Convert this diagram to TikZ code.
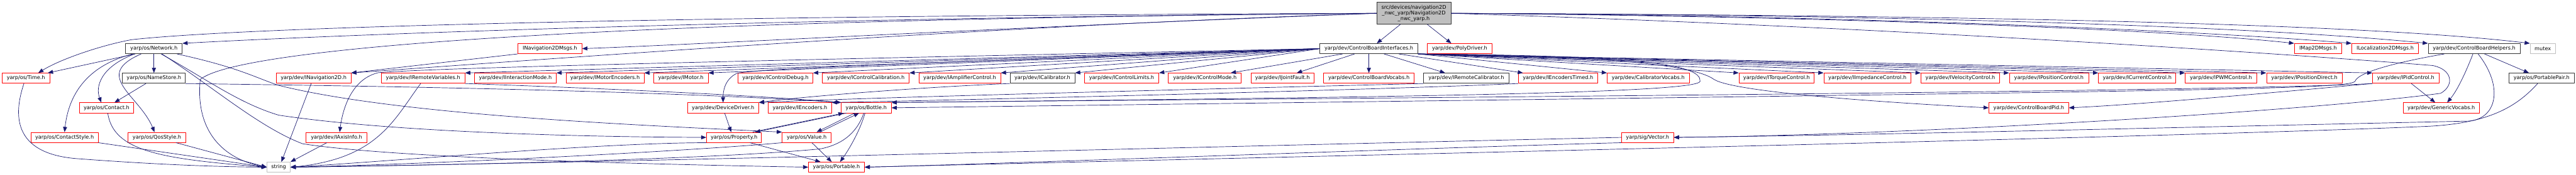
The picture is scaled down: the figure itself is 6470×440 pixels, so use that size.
\documentclass[tikz,border=0pt]{standalone}
\usepackage{fontspec}
\setmainfont{DejaVu Sans}
\usetikzlibrary{arrows.meta}
\definecolor{incblue}{HTML}{191970}
\definecolor{boxred}{HTML}{FF0000}
\definecolor{boxgray}{HTML}{BFBFBF}
\begin{document}
\begin{tikzpicture}[x=1pt,y=-1pt,line join=round,>={Triangle[length=13pt,width=10pt]},font=\fontsize{12.9}{14.7}\selectfont]
	\tikzset{box/.style={draw,line width=1.2pt,minimum height=25.5pt,inner sep=0pt,anchor=west},
		redbox/.style={box,draw=boxred},
		blkbox/.style={box,draw=black!80},
		graybox/.style={box,draw=boxgray},
		inc/.style={draw=incblue,line width=1.1pt,->}}
	\def\ya{122.5} \def\yb{197} \def\yc{271.5} \def\yd{346} \def\ye{421}
	\useasboundingbox (0,0) rectangle (6470,440);
	\fill[white] (0,0) rectangle (6470,440);
	\node[draw=black!80,fill=boxgray,line width=1.2pt,minimum width=186pt,minimum height=55pt,inner sep=0pt,align=center] (nav) at (3551,33.5) {src/devices/navigation2D\\\_nwc\_yarp/Navigation2D\\\_nwc\_yarp.h};
	\node[blkbox,minimum width=142pt] (net) at (315,\ya) {yarp/os/Network.h};
	\node[redbox,minimum width=161pt] (nmsg) at (1300,\ya) {INavigation2DMsgs.h};
	\node[blkbox,minimum width=246pt] (cbi) at (3314.5,\ya) {yarp/dev/ControlBoardInterfaces.h};
	\node[redbox,minimum width=163pt] (poly) at (3584,\ya) {yarp/dev/PolyDriver.h};
	\node[redbox,minimum width=119pt] (map) at (5762,\ya) {IMap2DMsgs.h};
	\node[redbox,minimum width=168pt] (loc) at (5906,\ya) {ILocalization2DMsgs.h};
	\node[blkbox,minimum width=231pt] (cbh) at (6098,\ya) {yarp/dev/ControlBoardHelpers.h};
	\node[graybox,minimum width=64pt] (mutex) at (6354,\ya) {mutex};
	\node[redbox,minimum width=119pt] (time) at (5,\yb) {yarp/os/Time.h};
	\node[blkbox,minimum width=158pt] (names) at (307,\yb) {yarp/os/NameStore.h};
	\node[redbox,minimum width=188pt] (inav) at (693,\yb) {yarp/dev/INavigation2D.h};
	\node[redbox,minimum width=210pt] (irv) at (957,\yb) {yarp/dev/IRemoteVariables.h};
	\node[redbox,minimum width=205.5pt] (iim) at (1191,\yb) {yarp/dev/IInteractionMode.h};
	\node[redbox,minimum width=196pt] (ime) at (1421,\yb) {yarp/dev/IMotorEncoders.h};
	\node[redbox,minimum width=137pt] (imot) at (1641,\yb) {yarp/dev/IMotor.h};
	\node[redbox,minimum width=188pt] (icd) at (1853,\yb) {yarp/dev/IControlDebug.h};
	\node[redbox,minimum width=218pt] (icc) at (2065,\yb) {yarp/dev/IControlCalibration.h};
	\node[redbox,minimum width=205.5pt] (iamp) at (2307,\yb) {yarp/dev/IAmplifierControl.h};
	\node[blkbox,minimum width=163pt] (ical) at (2536,\yb) {yarp/dev/ICalibrator.h};
	\node[redbox,minimum width=187pt] (icl) at (2723,\yb) {yarp/dev/IControlLimits.h};
	\node[redbox,minimum width=183pt] (icm) at (2934,\yb) {yarp/dev/IControlMode.h};
	\node[redbox,minimum width=159pt] (ijf) at (3141,\yb) {yarp/dev/IJointFault.h};
	\node[redbox,minimum width=227pt] (cbv) at (3324,\yb) {yarp/dev/ControlBoardVocabs.h};
	\node[blkbox,minimum width=214pt] (irc) at (3575,\yb) {yarp/dev/IRemoteCalibrator.h};
	\node[redbox,minimum width=199pt] (iet) at (3813,\yb) {yarp/dev/IEncodersTimed.h};
	\node[redbox,minimum width=206pt] (calv) at (4036,\yb) {yarp/dev/CalibratorVocabs.h};
	\node[redbox,minimum width=189pt] (itq) at (4367,\yb) {yarp/dev/ITorqueControl.h};
	\node[redbox,minimum width=219pt] (iimp) at (4580,\yb) {yarp/dev/IImpedanceControl.h};
	\node[redbox,minimum width=198pt] (ivel) at (4824,\yb) {yarp/dev/IVelocityControl.h};
	\node[redbox,minimum width=199pt] (ipos) at (5046,\yb) {yarp/dev/IPositionControl.h};
	\node[redbox,minimum width=194.5pt] (icur) at (5270,\yb) {yarp/dev/ICurrentControl.h};
	\node[redbox,minimum width=179pt] (ipwm) at (5488,\yb) {yarp/dev/IPWMControl.h};
	\node[redbox,minimum width=190pt] (ipd) at (5692,\yb) {yarp/dev/IPositionDirect.h};
	\node[redbox,minimum width=166.5pt] (ipid) at (5958.5,\yb) {yarp/dev/IPidControl.h};
	\node[blkbox,minimum width=164pt] (ppair) at (6301,\yb) {yarp/os/PortablePair.h};
	\node[redbox,minimum width=136pt] (contact) at (199,\yc) {yarp/os/Contact.h};
	\node[redbox,minimum width=179pt] (dd) at (1726,\yc) {yarp/dev/DeviceDriver.h};
	\node[redbox,minimum width=159pt] (ienc) at (1929,\yc) {yarp/dev/IEncoders.h};
	\node[redbox,minimum width=126pt] (bottle) at (2112,\yc) {yarp/os/Bottle.h};
	\node[redbox,minimum width=200pt] (cbpid) at (4995,\yc) {yarp/dev/ControlBoardPid.h};
	\node[redbox,minimum width=191.5pt] (gvoc) at (6035,\yc) {yarp/dev/GenericVocabs.h};
	\node[redbox,minimum width=169pt] (cstyle) at (77,\yd) {yarp/os/ContactStyle.h};
	\node[redbox,minimum width=145pt] (qos) at (321,\yd) {yarp/os/QosStyle.h};
	\node[redbox,minimum width=153pt] (iaxis) at (768,\yd) {yarp/dev/IAxisInfo.h};
	\node[redbox,minimum width=138pt] (prop) at (1774,\yd) {yarp/os/Property.h};
	\node[redbox,minimum width=123pt] (value) at (1964,\yd) {yarp/os/Value.h};
	\node[redbox,minimum width=131pt] (vec) at (4072,\yd) {yarp/sig/Vector.h};
	\node[graybox,minimum width=58.5pt] (string) at (670,\ye) {string};
	\node[redbox,minimum width=140.5pt] (portable) at (2030,\ye) {yarp/os/Portable.h};
	\draw[inc] (nav.west) .. controls (2000,45) and (900,85) .. (net.north east);
	\draw[inc] (nav.west) .. controls (1600,40) and (600,70) .. (330,100) .. controls (250,115) and (150,150) .. ([xshift=31pt]time.north);
	\draw[inc] (nav.west) .. controls (1500,50) and (600,120) .. (503,200) .. controls (490,330) and (560,400) .. (string.west);
	\draw[inc] (nav.west) .. controls (2500,70) and (1800,110) .. (nmsg.east);
	\draw[inc] (nav.west) .. controls (2500,65) and (1500,140) .. (inav.north east);
	\draw[inc] ([xshift=-34pt]nav.south) -- ([xshift=20pt]cbi.north);
	\draw[inc] ([xshift=34pt]nav.south) -- ([xshift=-21pt]poly.north);
	\draw[inc] (nav.east) .. controls (4500,40) and (5400,70) .. (map.north west);
	\draw[inc] (nav.east) .. controls (4600,38) and (5500,75) .. (loc.north west);
	\draw[inc] (nav.east) .. controls (4600,36) and (5600,60) .. (cbh.north west);
	\draw[inc] (nav.east) .. controls (4800,38) and (5900,55) .. (mutex.north west);
	\draw[inc] (nav.east) .. controls (4800,70) and (5800,140) .. (6110,165) .. controls (6160,175) and (6165,215) .. (6130,235) .. controls (5800,280) and (4800,340) .. (vec.east);
	\foreach \n in {irv,iim,ime,imot,icd,icc,iamp,ical,icl}
		\draw[inc] (cbi.west) -- (\n.north east);
	\draw[inc] ([xshift=-66pt]cbi.south) -- ([xshift=65pt]icm.north);
	\draw[inc] ([xshift=-36pt]cbi.south) -- ([xshift=36pt]ijf.north);
	\draw[inc] (cbi.south) -- (cbv.north);
	\draw[inc] ([xshift=38pt]cbi.south) -- ([xshift=-53pt]irc.north);
	\draw[inc] ([xshift=75pt]cbi.south) -- ([xshift=-88pt]iet.north);
	\foreach \n in {calv,itq,iimp,ivel,ipos,icur,ipwm,ipd,ipid}
		\draw[inc] (cbi.south east) -- (\n.north west);
	\draw[inc] (cbi.west) .. controls (2000,150) and (1100,170) .. (950,183) .. controls (880,200) and (860,280) .. ([xshift=8pt]iaxis.north);
	\draw[inc] (cbi.west) .. controls (2600,150) and (1900,170) .. (1850,185) .. controls (1820,200) and (1816,230) .. (dd.north);
	\draw[inc] (cbi.south east) .. controls (4000,140) and (4250,160) .. (4305,200) .. controls (4360,235) and (4800,262) .. (cbpid.west);
	\draw[inc] (cbi.south east) .. controls (4100,140) and (4275,160) .. (4270,205) .. controls (4260,235) and (3500,245) .. (bottle.north east);
	\draw[inc] (ical.south west) .. controls (2300,220) and (2000,245) .. (dd.north east);
	\draw[inc] (irc.south west) .. controls (3000,225) and (2200,245) .. (dd.north east);
	\draw[inc] (iet.south west) .. controls (3500,225) and (2500,250) .. (ienc.north east);
	\draw[inc] (irv.south east) .. controls (1500,222) and (1900,240) .. (bottle.north west);
	\draw[inc] ([xshift=-6pt]irv.south) .. controls (990,300) and (950,400) .. (string.east);
	\draw[inc] ([xshift=-6pt]inav.south) -- ([xshift=7pt]string.north);
	\draw[inc] (nmsg.south west) -- (inav.north east);
	\draw[inc] ([xshift=-47pt]net.south) -- ([xshift=55pt]time.north);
	\draw[inc] (net) -- (names);
	\draw[inc] ([xshift=-49pt]net.south) .. controls (250,170) and (240,220) .. ([xshift=-13pt]contact.north);
	\draw[inc] ([xshift=-53pt]net.south) .. controls (200,170) and (170,260) .. (cstyle.north);
	\draw[inc] ([xshift=-32pt]net.south) .. controls (230,190) and (350,240) .. ([xshift=-6pt]qos.north);
	\draw[inc] ([xshift=58pt]net.south) .. controls (600,170) and (640,195) .. (700,215) .. controls (1000,290) and (1600,315) .. (value.north west);
	\draw[inc] ([xshift=18pt]net.south) .. controls (520,200) and (600,260) .. (700,290) .. controls (1000,335) and (1500,345) .. (prop.west);
	\draw[inc] ([xshift=20pt]net.south) .. controls (530,215) and (650,320) .. (760,362) .. controls (1000,400) and (1700,415) .. (portable.west);
	\draw[inc] ([xshift=-20pt]names.south) -- ([xshift=20pt]contact.north);
	\draw[inc] (names.south east) .. controls (800,215) and (1600,225) .. (bottle.north west);
	\draw[inc] ([xshift=-5pt]time.south) .. controls (30,300) and (40,390) .. (200,400) .. controls (400,415) and (550,420) .. (string.west);
	\draw[inc] ([xshift=3pt]contact.south) .. controls (285,380) and (400,400) .. (string.west);
	\draw[inc] (cstyle.south east) -- (string.west);
	\draw[inc] ([xshift=48pt]qos.south) -- (string.west);
	\draw[inc] ([xshift=-24pt]iaxis.south) -- (string.north east);
	\draw[inc] ([xshift=4pt]dd.south) -- ([xshift=-7pt]prop.north);
	\draw[inc] ([xshift=47pt]prop.north) -- ([xshift=-57pt]bottle.south);
	\draw[inc] ([xshift=-50pt]bottle.south) -- ([xshift=53pt]prop.north);
	\draw[inc] ([xshift=-29pt]bottle.south) -- ([xshift=25pt]value.north);
	\draw[inc] ([xshift=33pt]value.north) -- ([xshift=-18pt]bottle.south);
	\draw[inc] ([xshift=13pt]value.south) -- ([xshift=-12pt]portable.north);
	\draw[inc] ([xshift=40pt]prop.south) -- ([xshift=-40pt]portable.north);
	\draw[inc] ([xshift=-3pt]bottle.south) .. controls (2160,330) and (2130,380) .. ([xshift=9pt]portable.north);
	\draw[inc] ([xshift=-6pt]bottle.south) .. controls (2150,340) and (2110,365) .. (2060,375) .. controls (1800,400) and (1200,415) .. (string.east);
	\draw[inc] (prop.south west) .. controls (1500,360) and (1000,405) .. (string.east);
	\draw[inc] (value.south west) .. controls (1800,375) and (1200,410) .. (string.east);
	\draw[inc] (vec.west) .. controls (3000,370) and (1500,410) .. (string.east);
	\draw[inc] (vec.south west) .. controls (3500,375) and (2600,410) .. (portable.east);
	\draw[inc] ([xshift=-75pt]cbh.south) .. controls (6000,160) and (5920,185) .. (5915,205) .. controls (5890,225) and (5600,228) .. (bottle.east);
	\draw[inc] ([xshift=-3pt]cbh.south) .. controls (6190,190) and (6170,230) .. ([xshift=15pt]gvoc.north);
	\draw[inc] ([xshift=26pt]cbh.south) -- ([xshift=-32pt]ppair.north);
	\draw[inc] ([xshift=10pt]cbh.south) .. controls (6290,220) and (6270,300) .. (6200,305) .. controls (5500,320) and (4700,340) .. (vec.east);
	\draw[inc] ([xshift=14pt]ipid.south) -- ([xshift=-15pt]gvoc.north);
	\draw[inc] (ipid.south west) .. controls (5800,225) and (5400,262) .. (cbpid.east);
	\draw[inc] (ipid.south west) .. controls (5600,232) and (3000,250) .. (bottle.north east);
	\draw[inc] ([xshift=-10pt]ppair.south) .. controls (6320,270) and (6250,310) .. (6100,318) .. controls (5500,345) and (3000,400) .. (portable.east);
\end{tikzpicture}
\end{document}
